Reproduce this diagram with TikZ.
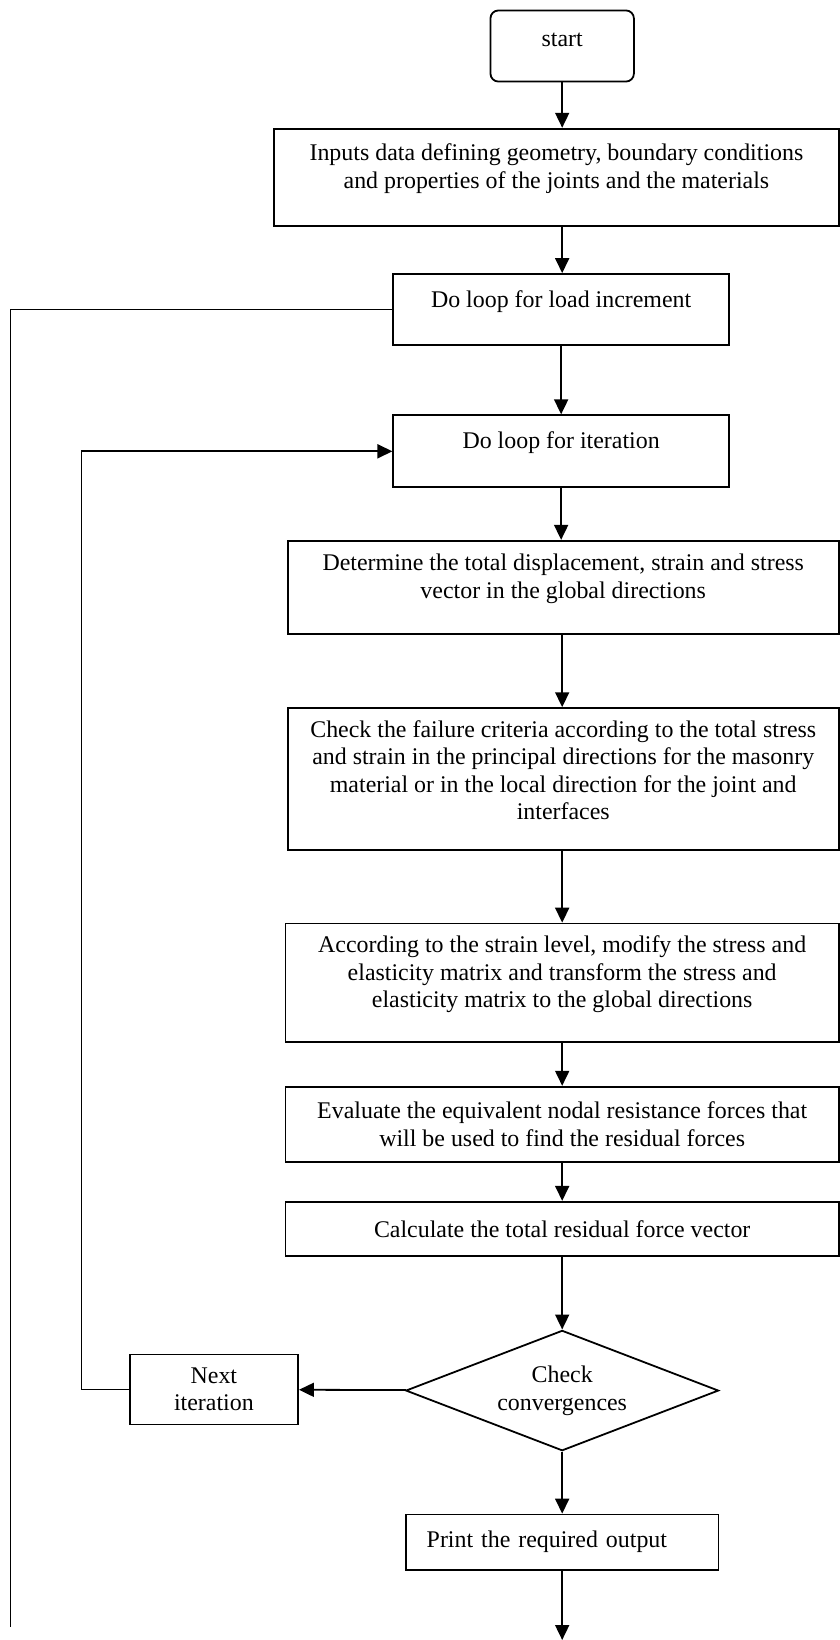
\documentclass[tikz,border=0pt]{standalone}
\usepackage{fontspec}
\setmainfont{Liberation Serif}
\usetikzlibrary{shapes.geometric, arrows.meta}

\tikzset{
  block/.style={rectangle, draw, line width=0.9pt, align=center, inner sep=2pt, font=\fontsize{12}{13.8}\selectfont},
  lifted/.style={execute at end node={\rule[-#1]{0pt}{0pt}}},
  lifted/.default=11pt,
  arr/.style={line width=0.9pt, -{Triangle[length=7.5pt,width=7pt]}},
  link/.style={line width=0.9pt},
}

\begin{document}
\begin{tikzpicture}[x=0.525pt, y=-0.525pt]
            \useasboundingbox (0,0) rectangle (803,1568);

            % start and input
            \node[block, lifted=6pt, rounded corners=4pt, minimum width=72pt, minimum height=35.7pt] (start) at (537.5, 44) {start};
            \node[block, lifted, minimum width=283.5pt, minimum height=48.8pt] (inputs) at (532, 169.5) {Inputs data defining geometry, boundary conditions\\and properties of the joints and the materials};

            % loops
            \node[block, lifted, minimum width=168.5pt, minimum height=35.7pt] (loadloop) at (536.5, 296) {Do loop for load increment};
            \node[block, lifted, minimum width=168.5pt, minimum height=36.2pt] (iterloop) at (536.5, 431.5) {Do loop for iteration};

            % steps of one iteration
            \node[block, lifted, minimum width=276.7pt, minimum height=46.7pt] (displ) at (538.5, 561.5) {Determine the total displacement, strain and stress\\vector in the global directions};
            \node[block, lifted=9pt, minimum width=276.7pt, minimum height=71.4pt] (failure) at (538.5, 745) {Check the failure criteria according to the total stress\\and strain in the principal directions for the masonry\\material or in the local direction for the joint and\\interfaces};
            \node[block, lifted, minimum width=277.7pt, minimum height=59.3pt] (modify) at (537.5, 939.5) {According to the strain level, modify the stress and\\elasticity matrix and transform the stress and\\elasticity matrix to the global directions};
            \node[block, minimum width=277.7pt, minimum height=37.8pt] (resist) at (537.5, 1075) {Evaluate the equivalent nodal resistance forces that\\will be used to find the residual forces};
            \node[block, minimum width=277.7pt, minimum height=27.3pt] (residual) at (537.5, 1175) {Calculate the total residual force vector};

            % convergence test
            \node[block, diamond, aspect=2.6, inner sep=0pt, minimum width=157pt, minimum height=60.4pt] (conv) at (537.5, 1329.5) {Check\\convergences};
            \node[block, minimum width=84.5pt, minimum height=35.2pt] (nextit) at (204.5, 1328.5) {Next\\iteration};
            \node[block, align=left, inner xsep=10.5pt, text width=136pt, minimum height=27.8pt] (output) at (537.5, 1474.5) {Print the required output};

            \coordinate (iterback) at (78, 1328.5);
            \coordinate (loadend) at (10, 1556);
            \coordinate (finish) at (537.5, 1568);

            \draw[arr] (start) -- (start |- inputs.north);
            \draw[arr] (inputs.south -| start) -- (loadloop.north -| start);
            \draw[arr] (loadloop) -- (loadloop |- iterloop.north);
            \draw[arr] (iterloop) -- (iterloop |- displ.north);
            \draw[arr] (displ.south -| start) -- (failure.north -| start);
            \draw[arr] (failure.south -| start) -- (modify.north -| start);
            \draw[arr] (modify) -- (modify |- resist.north);
            \draw[arr] (resist) -- (resist |- residual.north);
            \draw[arr] (residual) -- (conv);
            \draw[arr] (conv) -- (output);
            \draw[arr] (output) -- (finish);
            \draw[arr] (conv) -- (nextit);
            \draw[arr] (nextit) -- (iterback) |- (iterloop);
            \draw[link] (loadloop) -| (loadend);
        \end{tikzpicture}
\end{document}
